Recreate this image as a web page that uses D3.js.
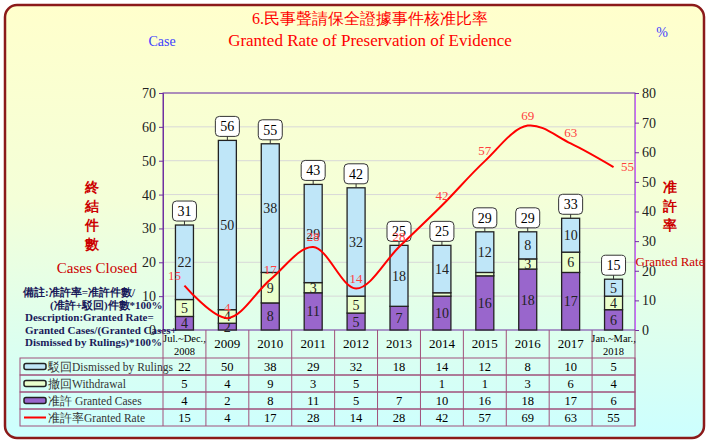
<!DOCTYPE html>
<html><head><meta charset="utf-8">
<script src="https://cdn.jsdelivr.net/npm/d3@7"></script>
<style>body{margin:0;background:#fff}text{font-family:"Liberation Serif",serif}</style>
</head><body><div id="chart"></div>
<script>
var categories = ["Jul.~Dec.,|2008","2009","2010","2011","2012","2013","2014","2015","2016","2017","Jan.~Mar.,|2018"];
var dismissed = [22,50,38,29,32,18,14,12,8,10,5];
var withdrawal = [5,4,9,3,5,0,1,1,3,6,4];
var granted = [4,2,8,11,5,7,10,16,18,17,6];
var rate = [15,4,17,28,14,28,42,57,69,63,55];
var leftTicks = [0,10,20,30,40,50,60,70];
var rightTicks = [0,10,20,30,40,50,60,70,80];

var W = 709, H = 445;
var svg = d3.select("#chart").append("svg").attr("width", W).attr("height", H);
var defs = svg.append("defs");
var grad = defs.append("linearGradient").attr("id","bg").attr("x1",0).attr("y1",0).attr("x2",0).attr("y2",1);
grad.append("stop").attr("offset","0%").attr("stop-color","#ffffcc");
grad.append("stop").attr("offset","45%").attr("stop-color","#f4ffd8");
grad.append("stop").attr("offset","100%").attr("stop-color","#ccffff");
svg.append("rect").attr("x",5).attr("y",5).attr("width",W-10).attr("height",H-12).attr("rx",12)
  .attr("fill","url(#bg)").attr("stroke","#8b1a1a").attr("stroke-width",2.5);

var pLeft = 163, pRight = 635, pTop = 93, pBottom = 330;
var x = d3.scaleBand().domain(d3.range(categories.length)).range([pLeft, pRight]);
var y = d3.scaleLinear().domain([0,70]).range([pBottom, pTop]);
var y2 = d3.scaleLinear().domain([0,80]).range([pBottom, pTop]);

// grid
svg.append("g").selectAll("line").data(leftTicks.slice(1)).join("line")
  .attr("x1",pLeft).attr("x2",pRight).attr("y1",d=>y(d)).attr("y2",d=>y(d)).attr("stroke","#d8d8d8");
svg.append("rect").attr("x",pLeft).attr("y",pTop).attr("width",pRight-pLeft).attr("height",pBottom-pTop)
  .attr("fill","none").attr("stroke","#7030a0");

var ax = svg.append("g").attr("transform",`translate(${pLeft},0)`).call(d3.axisLeft(y).tickValues(leftTicks).tickSize(4));
var ax2 = svg.append("g").attr("transform",`translate(${pRight},0)`).call(d3.axisRight(y2).tickValues(rightTicks).tickSize(4));
[ax,ax2].forEach(a=>{a.select(".domain").attr("stroke","#7030a0");a.selectAll("line").attr("stroke","#7030a0");
  a.selectAll("text").attr("font-size",14).attr("fill","#222").attr("font-family","Liberation Serif");});
ax2.select(".domain").attr("stroke","#cc66ff");

// bars
var bw = 18;
var stacks = categories.map((c,i)=>[
  {v0:0, v1:granted[i], c:"#9966cc", t:granted[i]},
  {v0:granted[i], v1:granted[i]+withdrawal[i], c:"#eaffcc", t:withdrawal[i]},
  {v0:granted[i]+withdrawal[i], v1:granted[i]+withdrawal[i]+dismissed[i], c:"#bfe6f8", t:dismissed[i]}
].map(s=>Object.assign(s,{i:i})));
var g = svg.append("g");
stacks.forEach(st=>st.forEach(s=>{
  if(s.v1===s.v0) return;
  var cx = x(s.i)+x.bandwidth()/2;
  g.append("rect").attr("x",cx-bw/2).attr("y",y(s.v1)).attr("width",bw).attr("height",y(s.v0)-y(s.v1))
    .attr("fill",s.c).attr("stroke","#222").attr("stroke-width",1.3);
  if(y(s.v0)-y(s.v1)>=5) g.append("text").attr("x",cx).attr("y",(y(s.v0)+y(s.v1))/2+5).attr("text-anchor","middle")
    .attr("font-size",14).attr("fill","#222").text(s.t);
}));
// totals
categories.forEach((c,i)=>{
  var tot = dismissed[i]+withdrawal[i]+granted[i];
  var cx = x(i)+x.bandwidth()/2, ty = y(tot);
  g.append("rect").attr("x",cx-12).attr("y",ty-24).attr("width",24).attr("height",20).attr("rx",4)
    .attr("fill","#fff").attr("stroke","#333");
  g.append("line").attr("x1",cx).attr("x2",cx).attr("y1",ty-4).attr("y2",ty).attr("stroke","#333");
  g.append("text").attr("x",cx).attr("y",ty-9).attr("text-anchor","middle").attr("font-size",14).text(tot);
});
// rate line
var line = d3.line().x((d,i)=>x(i)+x.bandwidth()/2).y(d=>y2(d)).curve(d3.curveCatmullRom.alpha(0.5));
svg.append("path").datum(rate).attr("d",line).attr("fill","none").attr("stroke","#ff0000").attr("stroke-width",2);
svg.append("g").selectAll("text").data(rate).join("text")
  .attr("x",(d,i)=>x(i)+x.bandwidth()/2+(i==0?-10:i==10?14:0)).attr("y",(d,i)=>y2(d)-(i==10?-4:6)).attr("text-anchor","middle")
  .attr("font-size",13).attr("fill","#ff4040").text(d=>d);

// titles
svg.append("text").attr("x",370).attr("y",24).attr("text-anchor","middle").attr("fill","#ff0000")
  .attr("font-size",16).attr("font-family","Noto Sans CJK TC").text("6.民事聲請保全證據事件核准比率");
svg.append("text").attr("x",370).attr("y",46).attr("text-anchor","middle").attr("fill","#ff0000")
  .attr("font-size",17).text("Granted Rate of  Preservation of  Evidence");
svg.append("text").attr("x",162).attr("y",46).attr("text-anchor","middle").attr("fill","#4040ff").attr("font-size",14).text("Case");
svg.append("text").attr("x",662).attr("y",37).attr("text-anchor","middle").attr("fill","#4040ff").attr("font-size",14).text("%");
"終結件數".split("").forEach((ch,k)=>svg.append("text").attr("x",92).attr("y",192+k*19).attr("text-anchor","middle")
  .attr("fill","#cc0000").attr("font-size",14).attr("font-weight","bold").attr("font-family","Noto Sans CJK TC").text(ch));
"准許率".split("").forEach((ch,k)=>svg.append("text").attr("x",670).attr("y",192+k*19).attr("text-anchor","middle")
  .attr("fill","#cc0000").attr("font-size",14).attr("font-weight","bold").attr("font-family","Noto Sans CJK TC").text(ch));
svg.append("text").attr("x",97).attr("y",273).attr("text-anchor","middle").attr("fill","#cc0000").attr("font-size",15).text("Cases Closed");
svg.append("text").attr("x",670).attr("y",266).attr("text-anchor","middle").attr("fill","#cc0000").attr("font-size",13).text("Granted Rate");
var notes = [["備註:准許率=准許件數/",23],["(准許+駁回)件數*100%",50],["Description:Granted Rate=",25],["Granted Cases/(Granted Cases+",25],["Dismissed by Rulings)*100%",25]];
notes.forEach((n,k)=>svg.append("text").attr("x",n[1]).attr("y",296+k*12.5).attr("font-size",11).attr("font-weight","bold")
  .attr("fill","#1a1a5a").attr("font-family","Noto Sans CJK TC, DejaVu Sans Mono").text(n[0]));

// table
var rows = [
  {label:"駁回Dismissed by Rulings", vals:dismissed, sym:"#bfe6f8"},
  {label:"撤回Withdrawal", vals:withdrawal.map(v=>v||""), sym:"#eaffcc"},
  {label:"准許 Granted Cases", vals:granted, sym:"#9966cc"},
  {label:"准許率Granted Rate", vals:rate, sym:"line"}
];
var tc = "#a0507a", tl = 20, rh = 17, ty0 = 358;
var tg = svg.append("g");
tg.append("line").attr("x1",pLeft).attr("x2",pLeft).attr("y1",pBottom).attr("y2",ty0+rh*4).attr("stroke",tc);
categories.forEach((c,i)=>{
  var xr = x(i)+x.bandwidth();
  tg.append("line").attr("x1",xr).attr("x2",xr).attr("y1",pBottom).attr("y2",ty0+rh*4).attr("stroke",tc);
  var parts = c.split("|");
  parts.forEach((p,k)=>tg.append("text").attr("x",x(i)+x.bandwidth()/2).attr("y",(parts.length==1?348:342+k*13))
    .attr("text-anchor","middle").attr("font-size",parts.length==1?13:10.5).text(p));
});
rows.forEach((r,k)=>{
  var ry = ty0+k*rh;
  tg.append("rect").attr("x",tl).attr("y",ry).attr("width",pRight-tl).attr("height",rh).attr("fill","none").attr("stroke",tc);
  if(r.sym=="line") tg.append("line").attr("x1",24).attr("x2",46).attr("y1",ry+rh/2).attr("y2",ry+rh/2).attr("stroke","#ff0000").attr("stroke-width",2);
  else tg.append("rect").attr("x",24).attr("y",ry+rh/2-3).attr("width",22).attr("height",6).attr("rx",2).attr("fill",r.sym).attr("stroke","#222").attr("stroke-width",1.5);
  tg.append("text").attr("x",48).attr("y",ry+13).attr("font-size",11.5).attr("fill","#333").text(r.label);
  r.vals.forEach((v,i)=>tg.append("text").attr("x",x(i)+x.bandwidth()/2).attr("y",ry+13).attr("text-anchor","middle").attr("font-size",12.5).text(v));
});
</script></body></html>
